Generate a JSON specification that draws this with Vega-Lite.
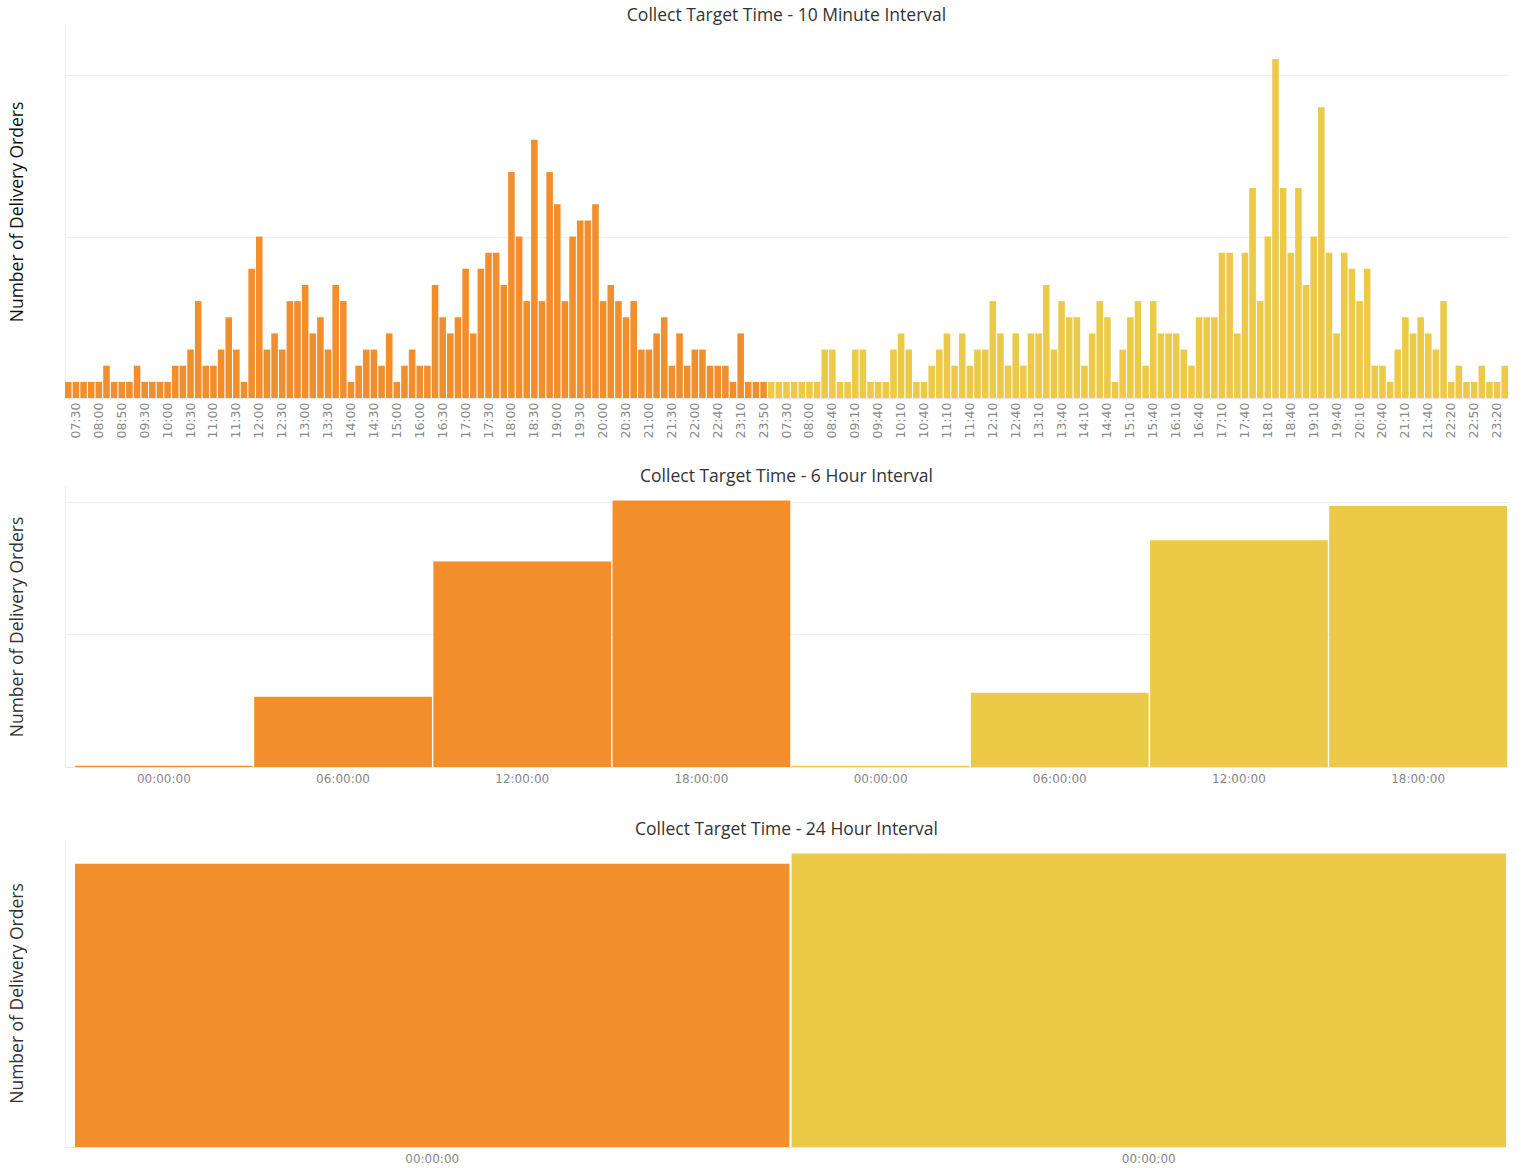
{
  "$schema": "https://vega.github.io/schema/vega-lite/v6.json",
  "background": "white",
  "padding": {"left": 8, "top": 6, "right": 5, "bottom": 2},
  "config": {
    "view": {"stroke": null},
    "font": "Open Sans",
    "title": {"fontSize": 17.5, "fontWeight": "normal", "color": "#333333", "offset": 1, "font": "Open Sans"},
    "axis": {"minExtent": 0, "titleFont": "Open Sans", "titleFontSize": 17.5, "titleFontWeight": "normal", "labelFont": "DejaVu Sans", "labelFontSize": 12, "labelColor": "#888888", "ticks": false, "gridColor": "#efefef", "domainColor": "#e8e8e8"},
    "bar": {"stroke": null}
  },
  "datasets": {
    "m10": [
      {"slot":"1 07:20","day":"Day 1","orders":1},
      {"slot":"1 07:30","day":"Day 1","orders":1},
      {"slot":"1 07:40","day":"Day 1","orders":1},
      {"slot":"1 07:50","day":"Day 1","orders":1},
      {"slot":"1 08:00","day":"Day 1","orders":1},
      {"slot":"1 08:20","day":"Day 1","orders":2},
      {"slot":"1 08:40","day":"Day 1","orders":1},
      {"slot":"1 08:50","day":"Day 1","orders":1},
      {"slot":"1 09:00","day":"Day 1","orders":1},
      {"slot":"1 09:20","day":"Day 1","orders":2},
      {"slot":"1 09:30","day":"Day 1","orders":1},
      {"slot":"1 09:40","day":"Day 1","orders":1},
      {"slot":"1 09:50","day":"Day 1","orders":1},
      {"slot":"1 10:00","day":"Day 1","orders":1},
      {"slot":"1 10:10","day":"Day 1","orders":2},
      {"slot":"1 10:20","day":"Day 1","orders":2},
      {"slot":"1 10:30","day":"Day 1","orders":3},
      {"slot":"1 10:40","day":"Day 1","orders":6},
      {"slot":"1 10:50","day":"Day 1","orders":2},
      {"slot":"1 11:00","day":"Day 1","orders":2},
      {"slot":"1 11:10","day":"Day 1","orders":3},
      {"slot":"1 11:20","day":"Day 1","orders":5},
      {"slot":"1 11:30","day":"Day 1","orders":3},
      {"slot":"1 11:40","day":"Day 1","orders":1},
      {"slot":"1 11:50","day":"Day 1","orders":8},
      {"slot":"1 12:00","day":"Day 1","orders":10},
      {"slot":"1 12:10","day":"Day 1","orders":3},
      {"slot":"1 12:20","day":"Day 1","orders":4},
      {"slot":"1 12:30","day":"Day 1","orders":3},
      {"slot":"1 12:40","day":"Day 1","orders":6},
      {"slot":"1 12:50","day":"Day 1","orders":6},
      {"slot":"1 13:00","day":"Day 1","orders":7},
      {"slot":"1 13:10","day":"Day 1","orders":4},
      {"slot":"1 13:20","day":"Day 1","orders":5},
      {"slot":"1 13:30","day":"Day 1","orders":3},
      {"slot":"1 13:40","day":"Day 1","orders":7},
      {"slot":"1 13:50","day":"Day 1","orders":6},
      {"slot":"1 14:00","day":"Day 1","orders":1},
      {"slot":"1 14:10","day":"Day 1","orders":2},
      {"slot":"1 14:20","day":"Day 1","orders":3},
      {"slot":"1 14:30","day":"Day 1","orders":3},
      {"slot":"1 14:40","day":"Day 1","orders":2},
      {"slot":"1 14:50","day":"Day 1","orders":4},
      {"slot":"1 15:00","day":"Day 1","orders":1},
      {"slot":"1 15:20","day":"Day 1","orders":2},
      {"slot":"1 15:40","day":"Day 1","orders":3},
      {"slot":"1 16:00","day":"Day 1","orders":2},
      {"slot":"1 16:10","day":"Day 1","orders":2},
      {"slot":"1 16:20","day":"Day 1","orders":7},
      {"slot":"1 16:30","day":"Day 1","orders":5},
      {"slot":"1 16:40","day":"Day 1","orders":4},
      {"slot":"1 16:50","day":"Day 1","orders":5},
      {"slot":"1 17:00","day":"Day 1","orders":8},
      {"slot":"1 17:10","day":"Day 1","orders":4},
      {"slot":"1 17:20","day":"Day 1","orders":8},
      {"slot":"1 17:30","day":"Day 1","orders":9},
      {"slot":"1 17:40","day":"Day 1","orders":9},
      {"slot":"1 17:50","day":"Day 1","orders":7},
      {"slot":"1 18:00","day":"Day 1","orders":14},
      {"slot":"1 18:10","day":"Day 1","orders":10},
      {"slot":"1 18:20","day":"Day 1","orders":6},
      {"slot":"1 18:30","day":"Day 1","orders":16},
      {"slot":"1 18:40","day":"Day 1","orders":6},
      {"slot":"1 18:50","day":"Day 1","orders":14},
      {"slot":"1 19:00","day":"Day 1","orders":12},
      {"slot":"1 19:10","day":"Day 1","orders":6},
      {"slot":"1 19:20","day":"Day 1","orders":10},
      {"slot":"1 19:30","day":"Day 1","orders":11},
      {"slot":"1 19:40","day":"Day 1","orders":11},
      {"slot":"1 19:50","day":"Day 1","orders":12},
      {"slot":"1 20:00","day":"Day 1","orders":6},
      {"slot":"1 20:10","day":"Day 1","orders":7},
      {"slot":"1 20:20","day":"Day 1","orders":6},
      {"slot":"1 20:30","day":"Day 1","orders":5},
      {"slot":"1 20:40","day":"Day 1","orders":6},
      {"slot":"1 20:50","day":"Day 1","orders":3},
      {"slot":"1 21:00","day":"Day 1","orders":3},
      {"slot":"1 21:10","day":"Day 1","orders":4},
      {"slot":"1 21:20","day":"Day 1","orders":5},
      {"slot":"1 21:30","day":"Day 1","orders":2},
      {"slot":"1 21:40","day":"Day 1","orders":4},
      {"slot":"1 21:50","day":"Day 1","orders":2},
      {"slot":"1 22:00","day":"Day 1","orders":3},
      {"slot":"1 22:10","day":"Day 1","orders":3},
      {"slot":"1 22:30","day":"Day 1","orders":2},
      {"slot":"1 22:40","day":"Day 1","orders":2},
      {"slot":"1 22:50","day":"Day 1","orders":2},
      {"slot":"1 23:00","day":"Day 1","orders":1},
      {"slot":"1 23:10","day":"Day 1","orders":4},
      {"slot":"1 23:20","day":"Day 1","orders":1},
      {"slot":"1 23:30","day":"Day 1","orders":1},
      {"slot":"1 23:50","day":"Day 1","orders":1},
      {"slot":"2 07:10","day":"Day 2","orders":1},
      {"slot":"2 07:20","day":"Day 2","orders":1},
      {"slot":"2 07:30","day":"Day 2","orders":1},
      {"slot":"2 07:40","day":"Day 2","orders":1},
      {"slot":"2 07:50","day":"Day 2","orders":1},
      {"slot":"2 08:00","day":"Day 2","orders":1},
      {"slot":"2 08:10","day":"Day 2","orders":1},
      {"slot":"2 08:30","day":"Day 2","orders":3},
      {"slot":"2 08:40","day":"Day 2","orders":3},
      {"slot":"2 08:50","day":"Day 2","orders":1},
      {"slot":"2 09:00","day":"Day 2","orders":1},
      {"slot":"2 09:10","day":"Day 2","orders":3},
      {"slot":"2 09:20","day":"Day 2","orders":3},
      {"slot":"2 09:30","day":"Day 2","orders":1},
      {"slot":"2 09:40","day":"Day 2","orders":1},
      {"slot":"2 09:50","day":"Day 2","orders":1},
      {"slot":"2 10:00","day":"Day 2","orders":3},
      {"slot":"2 10:10","day":"Day 2","orders":4},
      {"slot":"2 10:20","day":"Day 2","orders":3},
      {"slot":"2 10:30","day":"Day 2","orders":1},
      {"slot":"2 10:40","day":"Day 2","orders":1},
      {"slot":"2 10:50","day":"Day 2","orders":2},
      {"slot":"2 11:00","day":"Day 2","orders":3},
      {"slot":"2 11:10","day":"Day 2","orders":4},
      {"slot":"2 11:20","day":"Day 2","orders":2},
      {"slot":"2 11:30","day":"Day 2","orders":4},
      {"slot":"2 11:40","day":"Day 2","orders":2},
      {"slot":"2 11:50","day":"Day 2","orders":3},
      {"slot":"2 12:00","day":"Day 2","orders":3},
      {"slot":"2 12:10","day":"Day 2","orders":6},
      {"slot":"2 12:20","day":"Day 2","orders":4},
      {"slot":"2 12:30","day":"Day 2","orders":2},
      {"slot":"2 12:40","day":"Day 2","orders":4},
      {"slot":"2 12:50","day":"Day 2","orders":2},
      {"slot":"2 13:00","day":"Day 2","orders":4},
      {"slot":"2 13:10","day":"Day 2","orders":4},
      {"slot":"2 13:20","day":"Day 2","orders":7},
      {"slot":"2 13:30","day":"Day 2","orders":3},
      {"slot":"2 13:40","day":"Day 2","orders":6},
      {"slot":"2 13:50","day":"Day 2","orders":5},
      {"slot":"2 14:00","day":"Day 2","orders":5},
      {"slot":"2 14:10","day":"Day 2","orders":2},
      {"slot":"2 14:20","day":"Day 2","orders":4},
      {"slot":"2 14:30","day":"Day 2","orders":6},
      {"slot":"2 14:40","day":"Day 2","orders":5},
      {"slot":"2 14:50","day":"Day 2","orders":1},
      {"slot":"2 15:00","day":"Day 2","orders":3},
      {"slot":"2 15:10","day":"Day 2","orders":5},
      {"slot":"2 15:20","day":"Day 2","orders":6},
      {"slot":"2 15:30","day":"Day 2","orders":2},
      {"slot":"2 15:40","day":"Day 2","orders":6},
      {"slot":"2 15:50","day":"Day 2","orders":4},
      {"slot":"2 16:00","day":"Day 2","orders":4},
      {"slot":"2 16:10","day":"Day 2","orders":4},
      {"slot":"2 16:20","day":"Day 2","orders":3},
      {"slot":"2 16:30","day":"Day 2","orders":2},
      {"slot":"2 16:40","day":"Day 2","orders":5},
      {"slot":"2 16:50","day":"Day 2","orders":5},
      {"slot":"2 17:00","day":"Day 2","orders":5},
      {"slot":"2 17:10","day":"Day 2","orders":9},
      {"slot":"2 17:20","day":"Day 2","orders":9},
      {"slot":"2 17:30","day":"Day 2","orders":4},
      {"slot":"2 17:40","day":"Day 2","orders":9},
      {"slot":"2 17:50","day":"Day 2","orders":13},
      {"slot":"2 18:00","day":"Day 2","orders":6},
      {"slot":"2 18:10","day":"Day 2","orders":10},
      {"slot":"2 18:20","day":"Day 2","orders":21},
      {"slot":"2 18:30","day":"Day 2","orders":13},
      {"slot":"2 18:40","day":"Day 2","orders":9},
      {"slot":"2 18:50","day":"Day 2","orders":13},
      {"slot":"2 19:00","day":"Day 2","orders":7},
      {"slot":"2 19:10","day":"Day 2","orders":10},
      {"slot":"2 19:20","day":"Day 2","orders":18},
      {"slot":"2 19:30","day":"Day 2","orders":9},
      {"slot":"2 19:40","day":"Day 2","orders":4},
      {"slot":"2 19:50","day":"Day 2","orders":9},
      {"slot":"2 20:00","day":"Day 2","orders":8},
      {"slot":"2 20:10","day":"Day 2","orders":6},
      {"slot":"2 20:20","day":"Day 2","orders":8},
      {"slot":"2 20:30","day":"Day 2","orders":2},
      {"slot":"2 20:40","day":"Day 2","orders":2},
      {"slot":"2 20:50","day":"Day 2","orders":1},
      {"slot":"2 21:00","day":"Day 2","orders":3},
      {"slot":"2 21:10","day":"Day 2","orders":5},
      {"slot":"2 21:20","day":"Day 2","orders":4},
      {"slot":"2 21:30","day":"Day 2","orders":5},
      {"slot":"2 21:40","day":"Day 2","orders":4},
      {"slot":"2 21:50","day":"Day 2","orders":3},
      {"slot":"2 22:10","day":"Day 2","orders":6},
      {"slot":"2 22:20","day":"Day 2","orders":1},
      {"slot":"2 22:30","day":"Day 2","orders":2},
      {"slot":"2 22:40","day":"Day 2","orders":1},
      {"slot":"2 22:50","day":"Day 2","orders":1},
      {"slot":"2 23:00","day":"Day 2","orders":2},
      {"slot":"2 23:10","day":"Day 2","orders":1},
      {"slot":"2 23:20","day":"Day 2","orders":1},
      {"slot":"2 23:30","day":"Day 2","orders":2}
    ],
    "h6": [
      {"slot":"1 00:00:00","day":"Day 1","orders":1},
      {"slot":"1 06:00:00","day":"Day 1","orders":53},
      {"slot":"1 12:00:00","day":"Day 1","orders":155},
      {"slot":"1 18:00:00","day":"Day 1","orders":201},
      {"slot":"2 00:00:00","day":"Day 2","orders":1},
      {"slot":"2 06:00:00","day":"Day 2","orders":56},
      {"slot":"2 12:00:00","day":"Day 2","orders":171},
      {"slot":"2 18:00:00","day":"Day 2","orders":197}
    ],
    "h24": [
      {"slot":"1 00:00:00","day":"Day 1","orders":410},
      {"slot":"2 00:00:00","day":"Day 2","orders":425}
    ]
  },
  "spacing": 28,
  "vconcat": [
    {
      "title": {"text": "Collect Target Time - 10 Minute Interval"},
      "width": 1443,
      "height": 373,
      "data": {"name": "m10"},
      "mark": {"type": "bar"},
      "encoding": {
        "x": {"field": "slot", "type": "ordinal", "sort": null,
          "scale": {"paddingInner": 0.14, "paddingOuter": 0},
          "axis": {"title": null, "labelAngle": -90, "labelPadding": 4, "labelFontSize": 12.5,
            "labelExpr": "split(datum.label, ' ')[1]",
            "values": ["1 07:30","1 08:00","1 08:50","1 09:30","1 10:00","1 10:30","1 11:00","1 11:30","1 12:00","1 12:30","1 13:00","1 13:30","1 14:00","1 14:30","1 15:00","1 16:00","1 16:30","1 17:00","1 17:30","1 18:00","1 18:30","1 19:00","1 19:30","1 20:00","1 20:30","1 21:00","1 21:30","1 22:00","1 22:40","1 23:10","1 23:50",
              "2 07:30","2 08:00","2 08:40","2 09:10","2 09:40","2 10:10","2 10:40","2 11:10","2 11:40","2 12:10","2 12:40","2 13:10","2 13:40","2 14:10","2 14:40","2 15:10","2 15:40","2 16:10","2 16:40","2 17:10","2 17:40","2 18:10","2 18:40","2 19:10","2 19:40","2 20:10","2 20:40","2 21:10","2 21:40","2 22:20","2 22:50","2 23:20"]}},
        "y": {"field": "orders", "type": "quantitative",
          "scale": {"domain": [0, 23.1], "nice": false},
          "axis": {"title": "Number of Delivery Orders", "titleColor": "#111111", "labels": false, "values": [10, 20], "grid": true, "domainColor": "#eeeeee", "titlePadding": 38.5}},
        "color": {"field": "day", "type": "nominal", "scale": {"domain": ["Day 1", "Day 2"], "range": ["#F28E2B", "#EDC948"]}, "legend": null}
      }
    },
    {
      "title": {"text": "Collect Target Time - 6 Hour Interval"},
      "width": 1443,
      "height": 281,
      "data": {"name": "h6"},
      "mark": {"type": "bar"},
      "encoding": {
        "x": {"field": "slot", "type": "ordinal", "sort": null,
          "scale": {"paddingInner": 0.008, "paddingOuter": 0.0307, "align": 0.909},
          "axis": {"title": " ", "titleFontSize": 2, "titlePadding": 6, "labelAngle": 0, "labelPadding": 6, "labelExpr": "split(datum.label, ' ')[1]"}},
        "y": {"field": "orders", "type": "quantitative",
          "scale": {"domain": [0, 212], "nice": false},
          "axis": {"title": "Number of Delivery Orders", "titleColor": "#333333", "labels": false, "values": [100, 200], "grid": true, "domainColor": "#eeeeee", "titlePadding": 38.5}},
        "color": {"field": "day", "type": "nominal", "scale": {"domain": ["Day 1", "Day 2"], "range": ["#F28E2B", "#EDC948"]}, "legend": null}
      }
    },
    {
      "title": {"text": "Collect Target Time - 24 Hour Interval"},
      "width": 1443,
      "height": 308,
      "data": {"name": "h24"},
      "mark": {"type": "bar"},
      "encoding": {
        "x": {"field": "slot", "type": "ordinal", "sort": null,
          "scale": {"paddingInner": 0.003, "paddingOuter": 0.00838, "align": 0.833},
          "axis": {"title": null, "labelAngle": 0, "labelPadding": 6, "labelExpr": "split(datum.label, ' ')[1]"}},
        "y": {"field": "orders", "type": "quantitative",
          "scale": {"domain": [0, 446], "nice": false},
          "axis": {"title": "Number of Delivery Orders", "titleColor": "#333333", "labels": false, "values": [100, 200, 300, 400], "grid": false, "domainColor": "#eeeeee", "titlePadding": 38.5}},
        "color": {"field": "day", "type": "nominal", "scale": {"domain": ["Day 1", "Day 2"], "range": ["#F28E2B", "#EDC948"]}, "legend": null}
      }
    }
  ]
}
